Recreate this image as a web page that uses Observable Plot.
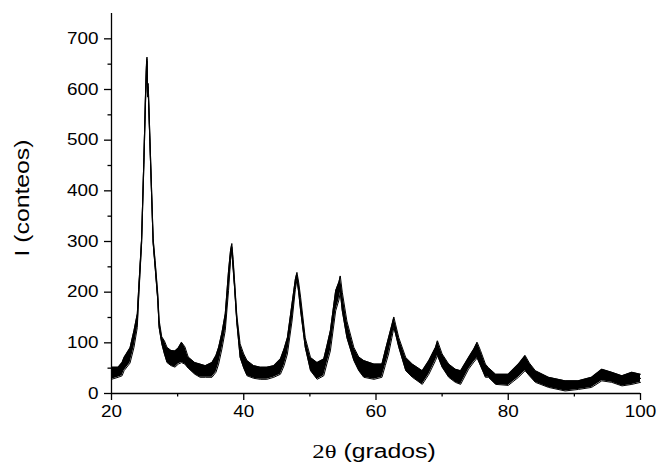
<!DOCTYPE html>
<html>
<head>
<meta charset="utf-8">
<script src="https://cdn.jsdelivr.net/npm/d3@7"></script>
<script src="https://cdn.jsdelivr.net/npm/@observablehq/plot@0.6"></script>
<style>
  html, body { margin: 0; padding: 0; background: #fff; }
  svg { display: block; }
</style>
</head>
<body>
<div id="chart"></div>
<script>
// 2θ positions (degrees)
const twoTheta = [20,21,21.6,21.9,22.8,23.4,23.9,24.1,24.55,24.9,25.15,25.3,25.37,25.45,25.55,25.8,26.05,26.3,26.6,27,27.2,27.6,28,28.4,29,29.6,30.1,30.6,31.1,31.6,32.6,33.4,34.2,35.2,35.8,36.2,36.7,37.2,37.7,38,38.2,38.4,38.6,38.95,39.45,40,40.5,41.5,42.5,43.5,44.55,45.55,46.1,46.6,47.3,47.8,48.05,48.3,48.6,49.3,50.1,51.1,52.1,52.6,53.1,53.9,54.4,54.6,54.9,55.6,56.65,57.4,58.15,59.7,60.9,61.4,61.9,62.4,62.7,62.95,63.45,64.5,65.5,67,68,69,69.3,70,71,72,72.8,74,74.8,75.3,75.8,76.55,77,78.1,80,81.55,82.55,83.2,84.1,86.1,88.6,90.6,92.6,94.15,95.65,97.2,98.7,100];
// lower edge of the noisy trace (counts)
const countsLow = [28,32,35,45,60,91,130,185,295,452,575,638,656,585,598,497,396,296,248,183,130,98,78,61,55,52,58,61,58,50,38,32,32,32,42,58,88,124,203,262,282,245,210,140,71,50,35,30,28,28,32,38,55,78,143,205,225,200,163,91,45,28,35,60,84,163,185,200,163,110,65,45,32,28,32,55,78,110,130,118,91,45,32,18,38,65,75,52,32,22,18,48,62,70,55,32,32,18,16,32,45,35,22,12,5,8,12,25,22,15,18,22];
// upper edge of the noisy trace (counts)
const countsHigh = [52,52,61,71,90,124,157,205,305,466,595,655,664,600,612,510,408,306,262,197,145,112,104,91,85,84,90,101,92,72,61,58,55,61,75,91,120,157,242,282,296,265,225,155,98,78,65,55,52,52,55,68,88,110,177,225,239,220,190,110,71,61,68,95,124,203,220,232,200,143,91,72,65,58,58,85,110,135,151,137,110,71,58,45,65,91,104,78,58,48,45,71,88,101,85,58,51,38,38,58,75,60,45,32,25,25,32,48,42,35,42,38];

const xMajor = [20, 40, 60, 80, 100];
const xMinor = [30, 50, 70, 90];
const yMajor = [0, 100, 200, 300, 400, 500, 600, 700];
const yMinor = [50, 150, 250, 350, 450, 550, 650];

const xLabelSerif = "2θ";
const xLabelSans = " (grados)";
const yLabel = "I (conteos)";

const data = twoTheta.map((x, i) => ({x, lo: countsLow[i], hi: countsHigh[i], mid: (countsLow[i] + countsHigh[i]) / 2}));

const font = "'Liberation Sans', Arial, sans-serif";

const chart = Plot.plot({
  width: 658,
  height: 462,
  marginLeft: 111,
  marginRight: 18,
  marginTop: 13,
  marginBottom: 69,
  style: {fontFamily: font, background: "white", color: "black"},
  x: {domain: [20, 100]},
  y: {domain: [0, 750]},
  marks: [
    Plot.areaY(data, {x: "x", y1: "lo", y2: "hi", fill: "black"}),
    Plot.line(data, {x: "x", y: "hi", stroke: "black", strokeWidth: 1}),
    Plot.line(data, {x: "x", y: "lo", stroke: "black", strokeWidth: 1}),
    Plot.line(data, {x: "x", y: "mid", stroke: "black", strokeWidth: 1.2}),
    Plot.axisX({ticks: xMajor, tickSize: 7, tickPadding: 5, fontSize: 16, label: null, strokeWidth: 1.3}),
    Plot.axisX({ticks: xMinor, tickSize: 3.5, tickFormat: () => "", label: null, strokeWidth: 1.3}),
    Plot.axisY({ticks: yMajor, tickSize: 7, tickPadding: 6, fontSize: 16, label: null, strokeWidth: 1.3}),
    Plot.axisY({ticks: yMinor, tickSize: 3.5, tickFormat: () => "", label: null, strokeWidth: 1.3}),
    Plot.ruleY([0], {stroke: "black", strokeWidth: 1.3}),
    Plot.ruleX([20], {y1: 0, y2: 750, stroke: "black", strokeWidth: 1.3})
  ]
});

document.getElementById("chart").appendChild(chart);

const svg = d3.select(chart);
const xl = svg.append("text")
  .attr("class", "stretch")
  .attr("x", 374).attr("y", 458)
  .attr("text-anchor", "middle")
  .attr("font-size", 19.5)
  .attr("fill", "black");
xl.append("tspan").attr("font-family", "'Liberation Serif', 'Times New Roman', serif").text(xLabelSerif);
xl.append("tspan").attr("font-family", font).text(xLabelSans);

svg.append("text")
  .attr("class", "stretch")
  .attr("transform", "translate(29,198) rotate(-90)")
  .attr("text-anchor", "middle")
  .attr("font-size", 19.5)
  .attr("font-family", font)
  .attr("fill", "black")
  .text(yLabel);

// widen texts horizontally like the original export, without moving them
function stretch(el, k) {
  const w = el.getComputedTextLength();
  if (w > 0) {
    el.setAttribute("textLength", (w * k).toFixed(2));
    el.setAttribute("lengthAdjust", "spacingAndGlyphs");
  }
}
chart.querySelectorAll('g[aria-label$="tick label"] text').forEach(el => stretch(el, 1.18));
chart.querySelectorAll('text.stretch').forEach(el => stretch(el, 1.27));
</script>
</body>
</html>
